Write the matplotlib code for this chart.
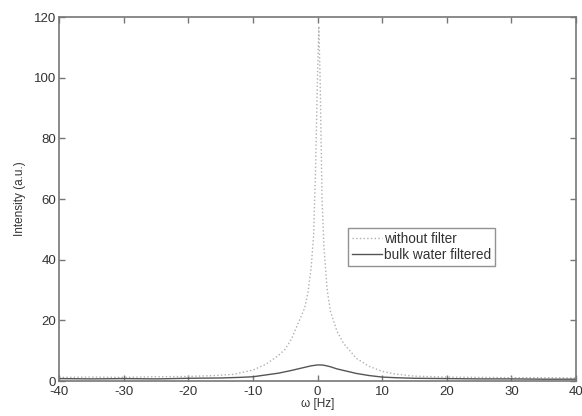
import matplotlib
matplotlib.use('Agg')
import matplotlib.pyplot as plt

# Values
# without filter (dotted)
freq_raw = [-40, -35, -30, -25, -20, -16, -13, -10, -8, -6, -5, -4, -3, -2, -1.5,
            -1, -0.6, -0.3, 0, 0.2, 0.4, 0.7, 1.0, 1.5, 2, 3, 4, 5, 6, 8, 10,
            12, 15, 20, 25, 30, 35, 40]
int_raw = [1.2, 1.3, 1.2, 1.4, 1.5, 1.8, 2.2, 3.6, 5.5, 8.5, 10.5, 14, 19, 24, 29,
           37, 48, 70, 100, 117, 100, 60, 44, 30, 23, 16.5, 12.5, 10, 7.5, 4.8, 3.2,
           2.3, 1.6, 1.3, 1.2, 1.1, 1.1, 1.0]

# bulk water filtered (solid)
freq_filt = [-40, -35, -30, -25, -20, -15, -12, -10, -8, -6, -4, -2, -1, 0, 0.5,
             1, 2, 3, 4, 5, 6, 8, 10, 12, 15, 20, 25, 30, 35, 40]
int_filt = [0.8, 0.7, 0.8, 0.7, 0.9, 1.0, 1.2, 1.4, 2.0, 2.6, 3.5, 4.5, 5.0, 5.3, 5.3,
            5.2, 4.7, 4.0, 3.5, 3.0, 2.5, 1.8, 1.3, 1.1, 0.9, 0.8, 0.7, 0.7, 0.6, 0.6]

plt.rcParams['font.family'] = ['Liberation Sans', 'DejaVu Sans']
plt.rcParams['axes.unicode_minus'] = False

fig = plt.figure(figsize=(5.82, 4.16), dpi=100)
ax = fig.add_axes([0.1014, 0.0841, 0.8883, 0.875])

ax.plot(freq_raw, int_raw, linestyle=':', color='#b0b0b0', linewidth=1.0,
        label='without filter')
ax.plot(freq_filt, int_filt, linestyle='-', color='#555555', linewidth=1.0,
        label='bulk water filtered')

ax.set_xlim(-40, 40)
ax.set_ylim(0, 120)
ax.set_xticks(range(-40, 41, 10))
ax.set_yticks(range(0, 121, 20))

for s in ax.spines.values():
    s.set_color('#777777')
    s.set_linewidth(1.2)
ax.tick_params(direction='in', top=True, right=True, length=4, width=1,
               color='#777777', labelsize=9.5, labelcolor='#333333')
ax.tick_params(axis='x', pad=3.5)
ax.tick_params(axis='y', pad=2)

ax.set_xlabel('ω [Hz]', fontsize=8.5, color='#333333', labelpad=0)
ax.set_ylabel('Intensity (a.u.)', fontsize=8.5, color='#333333', labelpad=6)

leg = ax.legend(loc='upper left', bbox_to_anchor=(0.559, 0.42), fontsize=9.8,
                frameon=True, fancybox=False, handlelength=2.2, handletextpad=0.15,
                borderpad=0.3, labelspacing=0.15, borderaxespad=0)
leg.get_frame().set_edgecolor('#777777')
leg.get_frame().set_linewidth(1.0)
for t in leg.get_texts():
    t.set_color('#333333')

fig.savefig('out.png', dpi=100)
